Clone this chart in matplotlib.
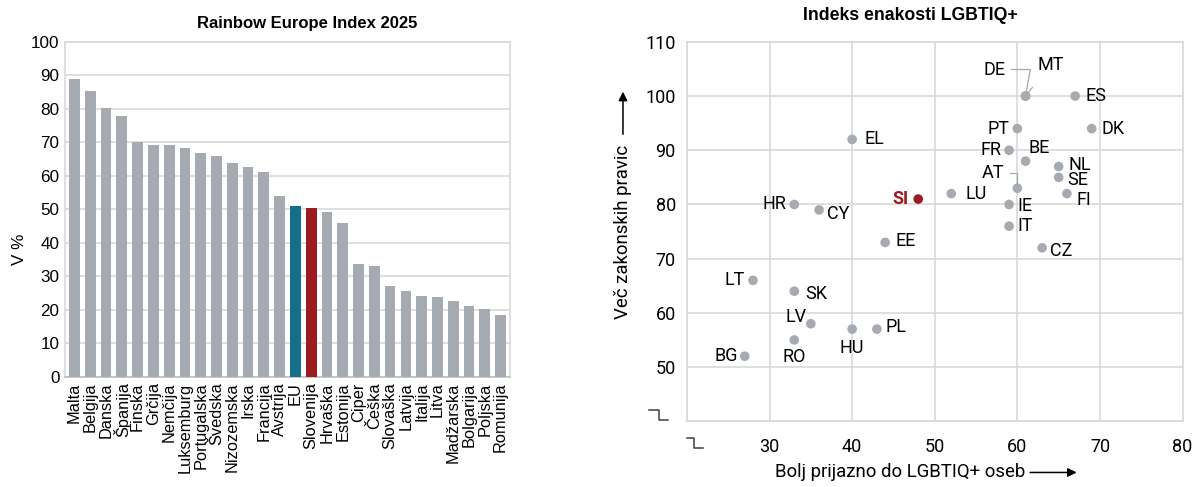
import matplotlib
matplotlib.use("Agg")
import matplotlib.pyplot as plt

# bar chart data
drzave = ["Malta", "Belgija", "Danska", "Španija", "Finska", "Grčija", "Nemčija",
          "Luksemburg", "Portugalska", "Švedska", "Nizozemska", "Irska", "Francija",
          "Avstrija", "EU", "Slovenija", "Hrvaška", "Estonija", "Ciper", "Češka",
          "Slovaška", "Latvija", "Italija", "Litva", "Madžarska", "Bolgarija",
          "Poljska", "Romunija"]
rainbow = [88.8, 85.3, 80.2, 77.9, 70.0, 69.2, 69.1, 68.4, 66.9, 66.0, 63.8, 62.7,
           61.3, 54.0, 51.1, 50.5, 49.1, 45.8, 33.6, 33.1, 27.1, 25.6, 24.3, 24.0,
           22.6, 21.2, 20.4, 18.6]

# scatter data
kode = ["DE", "MT", "ES", "PT", "DK", "EL", "FR", "BE", "NL", "SE", "AT", "LU", "FI",
        "SI", "HR", "IE", "CY", "IT", "EE", "CZ", "LT", "SK", "LV", "HU", "PL", "RO", "BG"]
prijazno = [61, 61, 67, 60, 69, 40, 59, 61, 65, 65, 60, 52, 66,
            48, 33, 59, 36, 59, 44, 63, 28, 33, 35, 40, 43, 33, 27]
pravice = [100, 100, 100, 94, 94, 92, 90, 88, 87, 85, 83, 82, 82,
           81, 80, 80, 79, 76, 73, 72, 66, 64, 58, 57, 57, 55, 52]

GREY = "#A5ABB0"
TEAL = "#136F8A"
RED = "#9B1B20"
GRID = "#D9D9D9"
FS = 13  # right chart text size

fig = plt.figure(figsize=(12.03, 4.87), dpi=100)

# ---- left: bars
ax1 = fig.add_axes([0.054, 0.226, 0.370, 0.688])
barve = [TEAL if d == "EU" else RED if d == "Slovenija" else GREY for d in drzave]
ax1.bar(range(len(drzave)), rainbow, width=0.68, color=barve, zorder=3)
ax1.set_xlim(-0.6, len(drzave) - 0.4)
ax1.set_ylim(0, 100)
ax1.set_yticks(range(0, 101, 10))
ax1.set_xticks(range(len(drzave)))
ax1.set_xticklabels(drzave, rotation=90, fontsize=11.8, family="Liberation Sans")
for t in ax1.get_yticklabels():
    t.set_fontfamily("Liberation Sans")
    t.set_fontsize(12.3)
ax1.tick_params(length=0, pad=4)
ax1.grid(axis="y", color=GRID, lw=1.2, zorder=0)
for s in ax1.spines.values():
    s.set_color(GRID)
    s.set_linewidth(1.2)
ax1.spines["bottom"].set_color("#BFBFBF")
ax1.set_ylabel("V %", fontsize=12.3, family="Liberation Sans", labelpad=4)
ax1.yaxis.set_label_coords(-0.085, 0.38)
ax1.set_title("Rainbow Europe Index 2025", fontsize=12, fontweight="bold",
              family="Liberation Sans", x=0.544, pad=10)

# ---- right: scatter
ax2 = fig.add_axes([0.571, 0.135, 0.412, 0.779])
ax2.set_xlim(20, 80)
ax2.set_ylim(40, 110)
ax2.set_xticks(range(20, 81, 10))
ax2.set_yticks(range(40, 111, 10))
ax2.set_xticklabels([""] + [str(v) for v in range(30, 81, 10)])
ax2.set_yticklabels([""] + [str(v) for v in range(50, 111, 10)])
for t in ax2.get_xticklabels() + ax2.get_yticklabels():
    t.set_fontfamily("Roboto")
    t.set_fontsize(FS)
ax2.tick_params(axis="x", length=0, pad=12)
ax2.tick_params(axis="y", length=0, pad=8)
ax2.grid(color=GRID, lw=1.2, zorder=0)
for s in ax2.spines.values():
    s.set_color(GRID)
    s.set_linewidth(1.2)

barve2 = [RED if k == "SI" else GREY for k in kode]
ax2.scatter(prijazno, pravice, s=48, c=barve2, zorder=3, linewidths=0)

# label offsets in pixels
odmiki = {
    "ES": (10, 0, "left"), "DK": (10, 0, "left"), "EL": (12, 0, "left"),
    "PT": (-8, 0, "right"), "FR": (-8, 0, "right"), "BE": (3, 13, "left"),
    "NL": (10, 2, "left"), "SE": (9, -3, "left"), "LU": (14, 0, "left"),
    "FI": (10, -6, "left"), "SI": (-10, 0, "right"), "HR": (-8, 0, "right"),
    "IE": (8, -2, "left"), "CY": (8, -4, "left"), "IT": (8, 0, "left"),
    "EE": (10, 1, "left"), "CZ": (8, -3, "left"), "LT": (-8, 0, "right"),
    "SK": (11, -3, "left"), "LV": (-4, 7, "right"), "HU": (0, -19, "center"),
    "PL": (9, 2, "left"), "RO": (0, -17, "center"), "BG": (-7, 0, "right"),
}
for k, x, y in zip(kode, prijazno, pravice):
    if k in odmiki:
        dx, dy, ha = odmiki[k]
        ax2.annotate(k, (x, y), xytext=(dx, dy), textcoords="offset pixels",
                     ha=ha, va="center", fontsize=FS, family="Roboto",
                     color=RED if k == "SI" else "black",
                     fontweight="bold" if k == "SI" else "normal")

# labels with leader lines
ax2.annotate("DE", (61, 100), xytext=(58.6, 104.9), ha="right", va="center",
             fontsize=FS, family="Roboto",
             arrowprops=dict(arrowstyle="-", color="#A6A6A6", lw=0.9,
                             connectionstyle="angle,angleA=0,angleB=80,rad=0",
                             shrinkA=2, shrinkB=3))
ax2.annotate("MT", (61, 100), xytext=(64.0, 105.8), ha="center", va="center",
             fontsize=FS, family="Roboto",
             arrowprops=dict(arrowstyle="-", color="#A6A6A6", lw=0.9,
                             shrinkA=10, shrinkB=3))
ax2.annotate("AT", (60, 83), xytext=(58.4, 85.8), ha="right", va="center",
             fontsize=FS, family="Roboto",
             arrowprops=dict(arrowstyle="-", color="#A6A6A6", lw=0.9,
                             connectionstyle="angle,angleA=0,angleB=90,rad=0",
                             shrinkA=2, shrinkB=3))

# axis titles with arrows
ax2.text(-0.129, 0.50, "Več zakonskih pravic", transform=ax2.transAxes, rotation=90,
         ha="center", va="center", fontsize=13.4, family="Roboto")
ax2.annotate("", xy=(-0.129, 0.876), xytext=(-0.129, 0.749), xycoords="axes fraction",
             arrowprops=dict(arrowstyle="-|>", color="black", lw=1.1, mutation_scale=13))
ax2.text(0.430, -0.135, "Bolj prijazno do LGBTIQ+ oseb", transform=ax2.transAxes,
         ha="center", va="center", fontsize=13.4, family="Roboto")
ax2.annotate("", xy=(0.792, -0.135), xytext=(0.687, -0.135), xycoords="axes fraction",
             arrowprops=dict(arrowstyle="-|>", color="black", lw=1.1, mutation_scale=13))

# axis break marks
ax2.plot([-0.077, -0.057, -0.057, -0.038], [0.029, 0.029, 0.003, 0.003],
         transform=ax2.transAxes, color="#404040", lw=1.1, clip_on=False)
ax2.plot([0.0, 0.014, 0.014, 0.032], [-0.045, -0.045, -0.071, -0.071],
         transform=ax2.transAxes, color="#404040", lw=1.1, clip_on=False)

ax2.set_title("Indeks enakosti LGBTIQ+", fontsize=12.7, fontweight="bold",
              family="Liberation Sans", x=0.45, pad=16)

fig.savefig("out.png", dpi=100, facecolor="white")
